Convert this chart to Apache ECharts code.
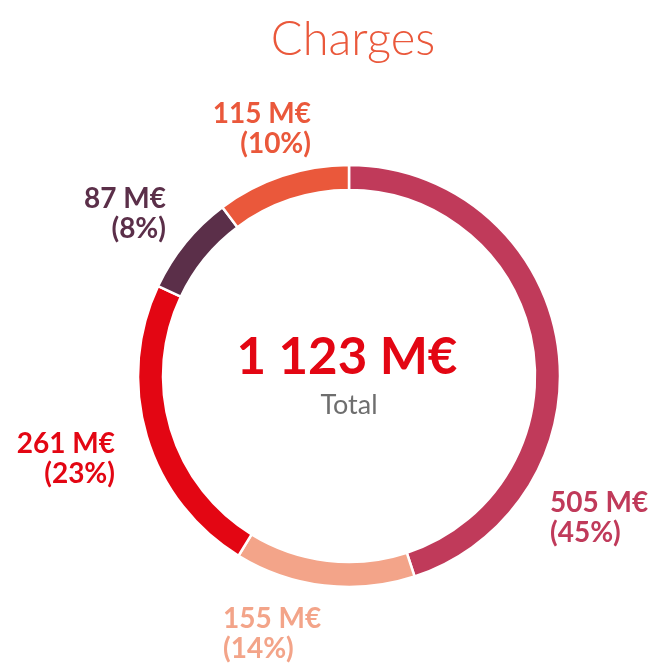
<!DOCTYPE html>
<html>
<head>
<meta charset="utf-8">
<script src="https://cdn.jsdelivr.net/npm/echarts@6/dist/echarts.min.js"></script>
<style>
  html, body { margin: 0; padding: 0; background: #fff; }
  #chart { width: 665px; height: 664px; }
</style>
</head>
<body>
<div id="chart"></div>
<script>
// Charges, in M€ (clockwise from top)
const names = ['A', 'B', 'C', 'D', 'E'];
const values = [505, 155, 261, 87, 115];
const colors = ['#C03A5A', '#F3A489', '#E30613', '#5B2F49', '#EA583B'];

const total = values.reduce((a, b) => a + b, 0);
const totalText = String(total).replace(/\B(?=(\d{3})+(?!\d))/g, ' ') + ' M€';

// label anchor per slice: x, y, align
const labelPos = [
	[550, 518, 'left'],
	[223, 634, 'left'],
	[115, 459, 'right'],
	[166, 214, 'right'],
	[311, 129, 'right']
];

const chart = echarts.init(document.getElementById('chart'));

const option = {
	animation: false,
	graphic: [
		{
			type: 'text', x: 353, y: 40,
			style: { text: 'Charges', fill: '#EA583B', fontSize: 47, fontWeight: 300, fontFamily: 'Lato', align: 'center', verticalAlign: 'middle' }
		},
		{
			type: 'text', x: 347, y: 358,
			style: { text: totalText, fill: '#E30613', fontSize: 51, fontWeight: 'bold', fontFamily: 'Lato', align: 'center', verticalAlign: 'middle' }
		},
		{
			type: 'text', x: 349, y: 405,
			style: { text: 'Total', fill: '#6E6E6E', fontSize: 27, fontFamily: 'Lato', align: 'center', verticalAlign: 'middle' }
		}
	],
	series: [
		{
			type: 'pie',
			center: [349, 376],
			radius: [186, 211],
			startAngle: 90,
			clockwise: true,
			avoidLabelOverlap: false,
			itemStyle: { borderColor: '#fff', borderWidth: 2.5 },
			label: {
				show: true,
				position: 'outside',
				fontFamily: 'Lato',
				fontWeight: 'bold',
				fontSize: 28,
				lineHeight: 30,
				formatter: p => p.value + ' M€\n(' + Math.round(p.percent) + '%)'
			},
			labelLine: { show: false },
			labelLayout: p => {
				const lp = labelPos[p.dataIndex];
				return { x: lp[0], y: lp[1], align: lp[2], verticalAlign: 'middle' };
			},
			emphasis: { disabled: true },
			data: values.map((v, i) => ({
				name: names[i],
				value: v,
				itemStyle: { color: colors[i] },
				label: { color: colors[i] }
			}))
		}
	]
};

chart.setOption(option);
</script>
</body>
</html>
